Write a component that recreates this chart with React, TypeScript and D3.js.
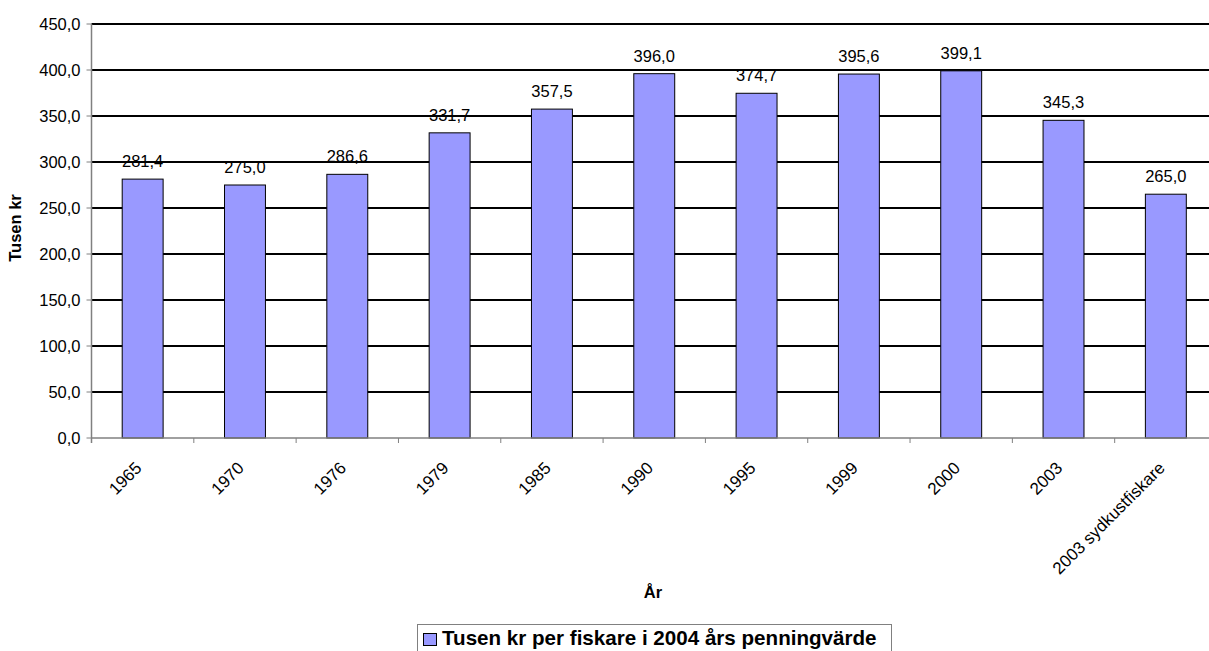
import React from "react";
import * as d3 from "d3";

const categories = ["1965", "1970", "1976", "1979", "1985", "1990", "1995", "1999", "2000", "2003", "2003 sydkustfiskare"];
const values = [281.4, 275.0, 286.6, 331.7, 357.5, 396.0, 374.7, 395.6, 399.1, 345.3, 265.0];
const yTicks = [0, 50, 100, 150, 200, 250, 300, 350, 400, 450];
const seriesName = "Tusen kr per fiskare i 2004 års penningvärde";
const yTitle = "Tusen kr";
const xTitle = "År";

const W = 1209;
const H = 651;
const left = 91.5;
const right = 1217;
const top = 24;
const bottom = 438;
const font = "Arial, 'Liberation Sans', sans-serif";
const fmt = (v: number) => v.toFixed(1).replace(".", ",");

export default function App() {
  const x = d3.scaleBand<string>().domain(categories).range([left, right]).paddingInner(0.6).paddingOuter(0.3);
  const y = d3.scaleLinear().domain([0, 450]).range([bottom, top]);
  const step = x.step();
  return (
    <svg width={W} height={H} style={{ position: "absolute", left: 0, top: 0, background: "#fff" }} fontFamily={font}>
      <rect x={0} y={0} width={W} height={H} fill="#fff" />
      {yTicks.filter((t) => t > 0).map((t) => (
        <line key={t} x1={left} x2={W} y1={y(t)} y2={y(t)} stroke="#000" strokeWidth={2} />
      ))}
      {categories.map((c, i) => (
        <rect key={c} x={x(c)} y={y(values[i])} width={x.bandwidth()} height={bottom - y(values[i])}
          fill="#9999ff" stroke="#000" strokeWidth={1} />
      ))}
      <line x1={left} x2={left} y1={top} y2={bottom + 5} stroke="#808080" strokeWidth={1.5} />
      <line x1={left} x2={W} y1={bottom} y2={bottom} stroke="#808080" strokeWidth={1.5} />
      {yTicks.map((t) => (
        <g key={t}>
          <line x1={left - 5} x2={left} y1={y(t)} y2={y(t)} stroke="#808080" strokeWidth={1} />
          <text x={left - 11} y={y(t)} dy="0.35em" textAnchor="end" fontSize={16.5} fill="#000">{fmt(t)}</text>
        </g>
      ))}
      {categories.map((c, i) => (
        <line key={"t" + c} x1={left + step * (i + 1)} x2={left + step * (i + 1)} y1={bottom} y2={bottom + 5} stroke="#808080" strokeWidth={1} />
      ))}
      {categories.map((c, i) => {
        const cx = (x(c) as number) + x.bandwidth() / 2;
        return (
          <text key={"v" + c} x={cx} y={y(values[i]) - 12} textAnchor="middle" fontSize={16.5} fill="#000">{fmt(values[i])}</text>
        );
      })}
      {categories.map((c) => {
        const cx = (x(c) as number) + x.bandwidth() / 2;
        return (
          <text key={"l" + c} transform={`translate(${cx},${bottom + 31}) rotate(-45)`} textAnchor="end" fontSize={17} fill="#000">{c}</text>
        );
      })}
      <text transform={`translate(21,${228}) rotate(-90)`} textAnchor="middle" fontSize={16.5} fontWeight="bold">{yTitle}</text>
      <text x={653} y={598} textAnchor="middle" fontSize={16.5} fontWeight="bold">{xTitle}</text>
      <rect x={417.5} y={624.5} width={474} height={30} fill="#fff" stroke="#808080" strokeWidth={1} />
      <rect x={423.5} y={633.5} width={13} height={12} fill="#9999ff" stroke="#000" strokeWidth={1} />
      <text x={442} y={645} fontSize={20.6} fontWeight="bold">{seriesName}</text>
    </svg>
  );
}
